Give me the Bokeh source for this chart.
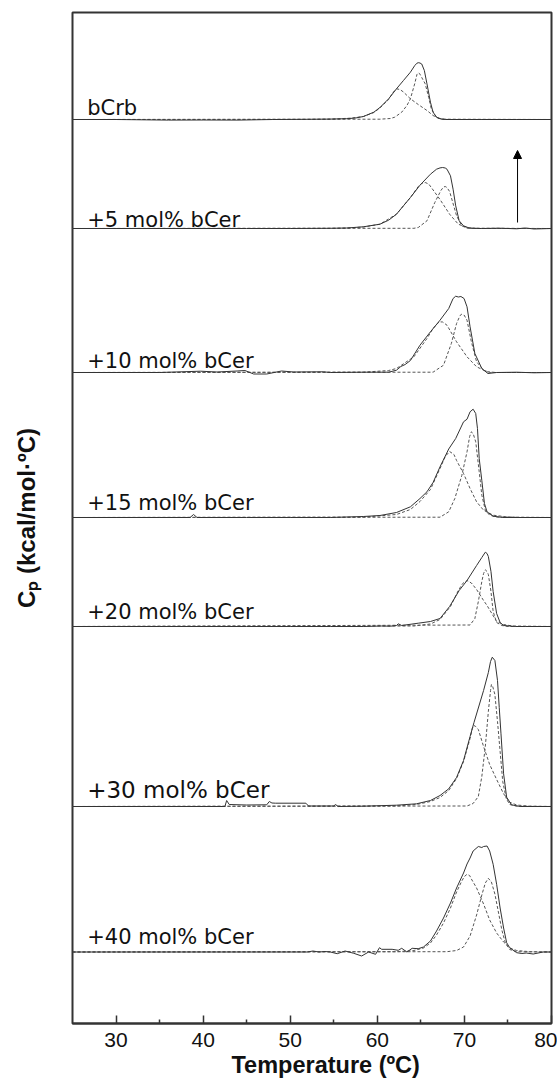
from bokeh.plotting import figure
from bokeh.models import Range1d, FixedTicker, Label, Arrow, NormalHead, LinearAxis, Title
from bokeh.embed import file_html
from bokeh.resources import INLINE

# ---------------- data (temperature in ºC, Cp in arbitrary stacked units) ----------------
trace_names = ["bCrb", "+5 mol% bCer", "+10 mol% bCer", "+15 mol% bCer",
               "+20 mol% bCer", "+30 mol% bCer", "+40 mol% bCer"]
stack_offset = [904, 795, 651, 506, 397, 217, 71.5]

x_ticks = [30, 40, 50, 60, 70, 80]
x_minor_ticks = [35, 45, 55, 65, 75]

# bCrb
bcrb_total_T = [25, 30, 36, 40, 44, 48, 52, 54.6, 56.5, 57.5, 58.4, 59.6, 60.3, 61.3, 62.2, 63.0, 63.8, 64.3, 64.55, 64.7, 64.9, 65.1, 65.4, 65.7, 66.1, 66.4, 66.8, 67.4, 68, 72, 76, 80]
bcrb_total_cp = [0, 0, -0.6, -0.5, -0.6, 0, 0.2, 0.4, 0.8, 1.5, 3, 7.3, 12, 20.7, 30.7, 39, 47.3, 54, 56.3, 56.8, 56.5, 55.5, 49, 35.7, 17.3, 7.3, 2.3, 0.3, 0, 0, 0, 0]
bcrb_c1_T = [25, 52, 54.6, 56.9, 58.4, 59.6, 60.3, 61.3, 61.8, 62.2, 62.6, 63.0, 63.8, 64.7, 65.7, 66.4, 67.1, 68, 80]
bcrb_c1_cp = [0, 0.1, 0.4, 1.3, 3, 7, 11.5, 20, 27, 30.7, 30.0, 27.5, 20.7, 15, 9, 4, 0.8, 0, 0]
bcrb_c2_T = [25, 60.3, 61.5, 62.0, 62.8, 63.4, 63.8, 64.3, 64.55, 64.7, 64.85, 65.1, 65.5, 65.9, 66.2, 66.8, 67.4, 80]
bcrb_c2_cp = [0, 0.3, 1, 2.3, 7.3, 14, 20.7, 36, 45, 46.7, 46, 42, 35.7, 22, 10.7, 2, 0.3, 0]

# +5 mol% bCer
b5_total_T = [25, 30, 35, 40, 45, 50, 54.6, 56.5, 58.4, 60.3, 61.3, 62.2, 63.0, 63.8, 64.9, 66.1, 66.8, 67.2, 67.5, 67.8, 68.0, 68.4, 68.7, 69.0, 69.4, 69.9, 70.6, 72, 74, 76, 77, 78, 80]
b5_total_cp = [0, 0, 0, 0, 0, 0, 0.2, 0.5, 1.7, 4.3, 8.3, 14.3, 22.7, 31, 43.3, 54.3, 59.3, 60.6, 61, 60.5, 59.3, 52.7, 39.3, 22.7, 7.7, 2.7, 0.3, 0, 0.3, -0.3, 0.5, -0.5, 0]
b5_c1_T = [25, 54.6, 56.5, 58.4, 60.3, 62.2, 63.8, 64.7, 65.1, 65.5, 65.9, 66.2, 67.2, 68.3, 69.3, 70.3, 71.4, 80]
b5_c1_cp = [0, 0.2, 0.5, 1.5, 4.3, 14.3, 31, 42, 45, 46, 44.5, 41, 29, 14.3, 4.3, 1, 0, 0]
b5_c2_T = [25, 64.2, 64.7, 65.7, 66.6, 67.3, 67.6, 67.8, 68.0, 68.3, 68.5, 69.1, 69.7, 70.3, 80]
b5_c2_cp = [0, 0.2, 1, 7.7, 26, 38, 41.5, 42, 41, 37, 31, 12.7, 2.7, 0.3, 0]

# +10 mol% bCer
b10_total_T = [25, 30, 35, 39.7, 41.6, 43.9, 44.8, 45.8, 47.3, 49.0, 50.4, 53.8, 54.6, 58.4, 61.3, 62.2, 62.7, 63.2, 63.8, 64.9, 66.1, 67.2, 68.2, 68.7, 69.0, 69.3, 69.6, 69.96, 70.3, 70.65, 71.2, 72.0, 72.7, 73.7, 76, 78, 80]
b10_total_cp = [0, 0, 0, 1.3, 0.5, 1.5, 2, -1.5, -1.5, 1.5, 0.5, 0.7, 0, 0.3, 0.3, 2.3, 6, 8, 12, 27.3, 40.7, 52.3, 64, 74, 76.3, 75.5, 76, 74, 65.7, 45.7, 19, 4, -1, 0, 0.3, -0.3, 0]
b10_c1_T = [25, 58.4, 61.3, 62.2, 64.2, 65.7, 66.4, 67.1, 67.5, 68.0, 69.1, 70.3, 71.4, 72.6, 73.7, 80]
b10_c1_cp = [0, 0.3, 2, 4, 15.7, 34, 44, 50.7, 50.5, 47.3, 30.7, 15.7, 5.7, 0.7, 0, 0]
b10_c2_T = [25, 66.4, 67.6, 68.5, 69.1, 69.5, 69.7, 69.96, 70.3, 70.8, 71.4, 72.2, 73.0, 80]
b10_c2_cp = [0, 0.3, 7.3, 29, 49, 57, 58.3, 57.5, 52.3, 30.7, 10.7, 2.3, 0, 0]

# +15 mol% bCer
b15_total_T = [25, 30, 35, 38.5, 38.9, 39.3, 45, 50, 54.6, 58.4, 60.3, 62.2, 63.8, 64.9, 65.7, 66.4, 67.2, 68.2, 69.0, 69.9, 70.3, 70.65, 71.0, 71.3, 71.5, 71.7, 72.0, 72.3, 72.6, 73.3, 74.4, 80]
b15_total_cp = [0, 0, 0, 0, 3, 0, 0, 0, 0, 1, 2, 5, 10.7, 19, 25.7, 35, 50.7, 68.5, 79, 95.7, 98.3, 105.7, 108.3, 104, 89, 59, 37, 14, 5.7, 1.3, 0, 0]
b15_c1_T = [25, 58.4, 62.2, 63.8, 64.9, 66.1, 67.2, 67.8, 68.3, 68.8, 69.1, 69.9, 70.65, 71.4, 72.2, 73.3, 74.8, 76.3, 80]
b15_c1_cp = [0, 0.3, 3, 8, 16, 28, 49, 61, 66, 63, 57, 44, 29, 15.7, 7.3, 2.3, 0.7, 0, 0]
b15_c2_T = [25, 67.2, 68.2, 68.9, 69.7, 70.3, 70.6, 70.8, 71.0, 71.3, 71.7, 72.0, 72.4, 72.9, 73.7, 80]
b15_c2_cp = [0, 0.3, 5.7, 19, 42, 65.7, 81, 85.7, 84, 75.7, 45.7, 22.3, 7.3, 2.3, 0.5, 0]

# +20 mol% bCer
b20_total_T = [25, 30, 35, 40, 45, 50, 54.6, 58.4, 60.5, 61.5, 62.2, 62.4, 62.8, 64.7, 66.1, 67.2, 68.3, 69.4, 70.3, 71.4, 72.0, 72.4, 72.6, 72.75, 73.05, 73.3, 73.7, 74.1, 74.5, 75.9, 77, 80]
b20_total_cp = [0, 0, 0, 0, 0, 0, 0, 0, 0.5, 0.3, 1, 2.7, 1, 3.3, 5, 8, 20, 36, 46, 61, 69, 74.3, 73, 70, 55, 35, 13, 4, 1, 0, 0, 0]
b20_c1_T = [25, 64.2, 66.1, 67.2, 68.4, 69.3, 69.8, 70.3, 70.8, 71.4, 72.2, 72.6, 73.7, 74.5, 75.5, 80]
b20_c1_cp = [0, 0.5, 2.5, 7, 20, 36, 43, 46, 43.5, 37, 26, 21, 5, 2, 0.5, 0]
b20_c2_T = [25, 70.65, 71.2, 71.6, 72.0, 72.2, 72.4, 72.6, 72.75, 73.05, 73.3, 73.7, 74.3, 75, 80]
b20_c2_cp = [0, 1.5, 8, 25, 45, 53, 56.7, 55, 52, 35, 15, 4, 1, 0, 0]

# +30 mol% bCer
b30_total_T = [25, 30, 35, 40, 42.5, 42.7, 43.0, 45.0, 47.3, 47.6, 47.9, 48.3, 51.8, 52.1, 55.0, 55.2, 55.5, 58.4, 62.2, 64.5, 66.1, 67.2, 68.2, 69.1, 69.9, 70.65, 71.1, 72.2, 72.75, 73.0, 73.2, 73.5, 73.8, 74.0, 74.2, 74.5, 74.85, 75.4, 76.4, 78, 80]
b30_total_cp = [0, 0, 0, 0, 0, 6, 2, 1.5, 1.7, 5, 3.5, 3.3, 3.3, 0.5, 0.5, 2, 0, 0.3, 1.3, 2.7, 6, 11, 17.7, 29, 46, 70, 84, 116, 134, 145, 149.3, 146, 126, 99, 72.7, 32.7, 9.3, 1.7, 0, 0, 0]
b30_c1_T = [25, 62.2, 64.5, 66.1, 67.2, 68.2, 69.1, 69.9, 70.65, 70.9, 71.1, 71.3, 71.6, 72.2, 72.9, 73.7, 74.5, 75.2, 76.0, 77.5, 80]
b30_c1_cp = [0, 0.5, 2, 5, 9, 16, 28, 45, 68, 78, 81, 80, 77, 60, 42, 27, 12.7, 4.3, 1.5, 0.3, 0]
b30_c2_T = [25, 70.3, 71.0, 71.6, 72.0, 72.4, 72.75, 73.0, 73.1, 73.25, 73.5, 73.8, 74.1, 74.4, 74.8, 75.2, 76.0, 80]
b30_c2_cp = [0, 0.5, 3, 10, 30, 60, 95, 116, 122, 120, 112, 85, 55, 25, 8, 2, 0.3, 0]

# +40 mol% bCer
b40_total_T = [25, 30, 35, 40, 45, 50, 52.0, 52.6, 53.3, 54.0, 54.6, 55.4, 56.3, 57.3, 58.2, 59.0, 59.8, 60.25, 60.5, 61.7, 62.4, 62.8, 63.4, 64.0, 64.7, 65.3, 66.1, 66.8, 67.6, 68.4, 69.1, 69.9, 70.3, 70.65, 71.0, 71.6, 72.0, 72.2, 72.6, 72.9, 73.3, 73.7, 74.1, 74.5, 74.85, 75.2, 76.0, 76.6, 77.1, 77.9, 79.05, 80]
b40_total_cp = [0, 0, 0, 0, 0, 0, 0, 1, 0, 0.5, 0, -1.7, 1, -1.3, -4, 0, -2.3, 4.3, 2.7, 2.7, 1.7, 3.7, 0, 3.7, 3.3, 5, 11, 21, 34, 49, 64, 79, 88, 94, 101, 105.5, 104.5, 105.5, 106, 101, 87.7, 67.7, 44, 24, 9.3, 4.3, -0.7, -1.5, -1, -2, 0, 0]
b40_c1_T = [25, 62.2, 64.2, 65.3, 66.1, 66.8, 67.6, 68.4, 69.1, 69.7, 70.0, 70.3, 70.6, 70.8, 71.4, 72.2, 72.9, 73.7, 74.5, 75.2, 76.0, 77.5, 80]
b40_c1_cp = [0, 0.3, 1.5, 4, 9, 17, 29, 44, 60, 71, 75.5, 77.7, 76.5, 73, 64, 48, 32, 19, 10, 4, 1.5, 0.3, 0]
b40_c2_T = [25, 68.0, 69.1, 69.9, 70.65, 71.4, 72.0, 72.4, 72.75, 73.1, 73.5, 73.9, 74.3, 74.7, 75.2, 76.0, 80]
b40_c2_cp = [0, 0.3, 1.5, 5, 16, 37, 57, 69, 73.7, 70, 58, 40, 22, 9, 2.5, 0.3, 0]

traces = [
    (bcrb_total_T, bcrb_total_cp, bcrb_c1_T, bcrb_c1_cp, bcrb_c2_T, bcrb_c2_cp),
    (b5_total_T, b5_total_cp, b5_c1_T, b5_c1_cp, b5_c2_T, b5_c2_cp),
    (b10_total_T, b10_total_cp, b10_c1_T, b10_c1_cp, b10_c2_T, b10_c2_cp),
    (b15_total_T, b15_total_cp, b15_c1_T, b15_c1_cp, b15_c2_T, b15_c2_cp),
    (b20_total_T, b20_total_cp, b20_c1_T, b20_c1_cp, b20_c2_T, b20_c2_cp),
    (b30_total_T, b30_total_cp, b30_c1_T, b30_c1_cp, b30_c2_T, b30_c2_cp),
    (b40_total_T, b40_total_cp, b40_c1_T, b40_c1_cp, b40_c2_T, b40_c2_cp),
]

# ---------------- layout / style ----------------
label_gap = [11.5, 9, 11.5, 15, 15, 17, 15]
label_size = ["21px", "21px", "21px", "21px", "21px", "23px", "21px"]

# the page template has no body margin, so the frame sits at (72, 12) directly
p = figure(width=557, height=1084, x_range=Range1d(25, 80), y_range=Range1d(0, 1011),
           output_backend="svg", toolbar_location=None, y_axis_location=None,
           title_location=None,
           min_border_left=72, min_border_right=6, min_border_top=12, min_border_bottom=61)
p.background_fill_color = "white"
p.border_fill_color = "white"
p.xgrid.visible = False
p.ygrid.visible = False
p.outline_line_color = "#333333"
p.outline_line_width = 2
p.outline_line_alpha = 1

ax = p.xaxis[0]
ax.ticker = FixedTicker(ticks=x_ticks, minor_ticks=x_minor_ticks)
ax.axis_line_color = "#333333"
ax.axis_line_width = 2
ax.major_tick_in = 8
ax.major_tick_out = 0
ax.minor_tick_in = 4
ax.minor_tick_out = 0
ax.major_tick_line_color = "#333333"
ax.major_tick_line_width = 1.5
ax.minor_tick_line_color = "#333333"
ax.minor_tick_line_width = 1.5
ax.major_label_text_font = "Liberation Sans"
ax.major_label_text_font_size = "21px"
ax.major_label_text_color = "#111111"
ax.major_label_standoff = 9

# left axis only carries the Cp title
yax = LinearAxis(ticker=FixedTicker(ticks=[]), axis_line_color=None,
                 major_tick_line_color=None, minor_tick_line_color=None,
                 major_tick_out=0, minor_tick_out=0, major_tick_in=0, minor_tick_in=0,
                 major_label_standoff=0, major_label_text_font_size="0px",
                 axis_label="Cₚ (kcal/mol·ºC)", axis_label_standoff=33,
                 axis_label_text_font="Liberation Sans", axis_label_text_font_style="bold",
                 axis_label_text_font_size="24px", axis_label_text_color="#111111")
p.add_layout(yax, "left")

# bottom title
p.add_layout(Title(text="Temperature (ºC)", align="left", offset=159, standoff=0,
                   text_font="Liberation Sans", text_font_style="bold",
                   text_font_size="23.5px", text_color="#111111"), "below")

solid_color = "#333333"
dash_color = "#555555"

for (tT, tcp, c1T, c1cp, c2T, c2cp), off in zip(traces, stack_offset):
    p.line(c1T, [v + off for v in c1cp], line_color=dash_color, line_width=1, line_dash="3 2")
    p.line(c2T, [v + off for v in c2cp], line_color=dash_color, line_width=1, line_dash="3 2")
    p.line(tT, [v + off for v in tcp], line_color=solid_color, line_width=1)

for name, off, gap, fs in zip(trace_names, stack_offset, label_gap, label_size):
    p.add_layout(Label(x=26.69, y=off + gap, text=name, text_font="DejaVu Sans",
                       text_font_size=fs, text_color="#111111",
                       text_align="left", text_baseline="alphabetic"))

# heating direction arrow
p.add_layout(Arrow(end=NormalHead(size=8, fill_color="black", line_color="black", line_width=1),
                   x_start=76.1, y_start=801, x_end=76.1, y_end=873,
                   line_color="black", line_width=1))

open("out.html", "w").write(file_html(p, INLINE))
